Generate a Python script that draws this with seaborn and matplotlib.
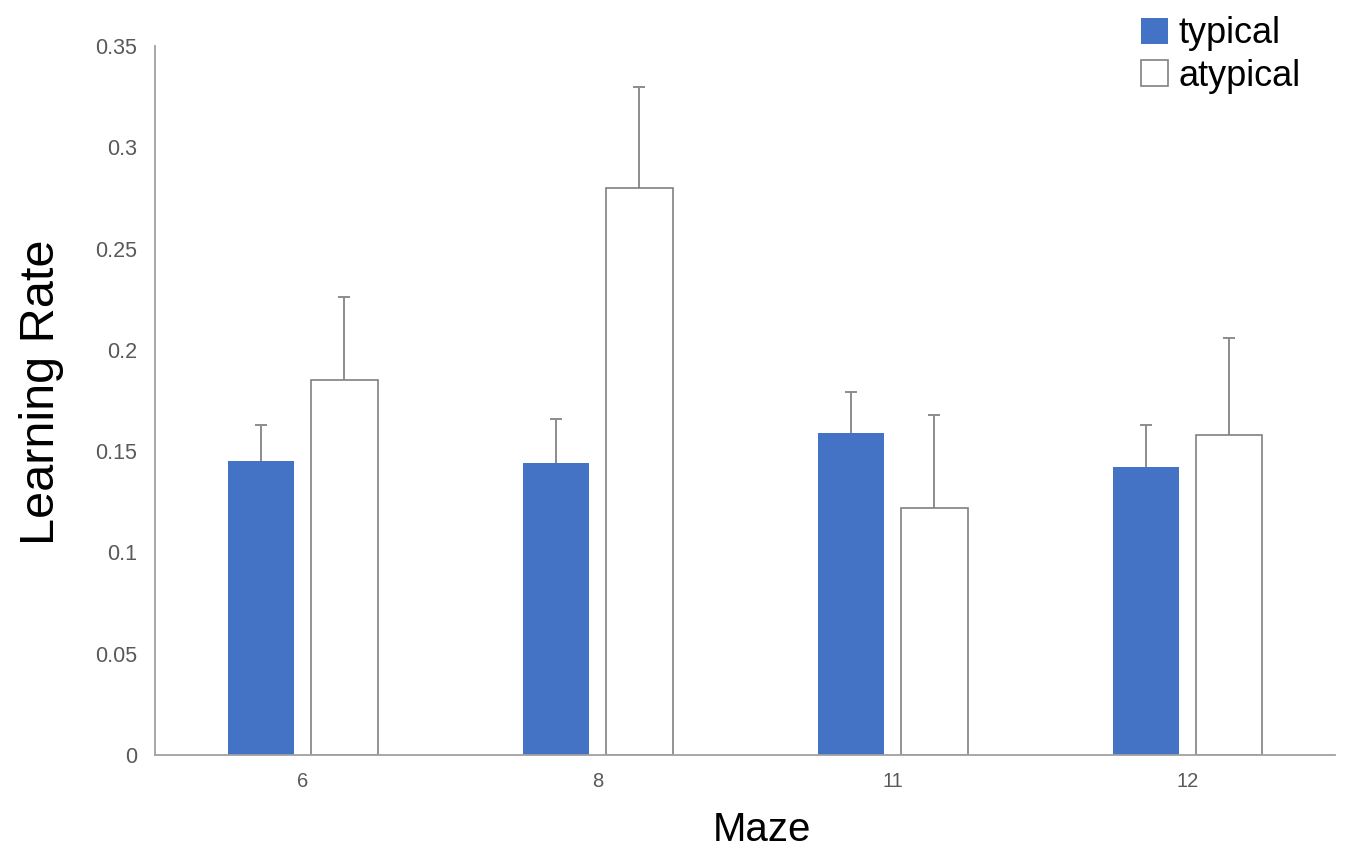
import matplotlib
matplotlib.use("Agg")
import matplotlib.pyplot as plt
import seaborn as sns
import pandas as pd
import numpy as np

mazes = ["6", "8", "11", "12"]
groups = ["typical", "atypical"]
typical_vals = [0.145, 0.144, 0.159, 0.142]
atypical_vals = [0.185, 0.280, 0.122, 0.158]
typical_err = [0.018, 0.022, 0.020, 0.021]
atypical_err = [0.041, 0.050, 0.046, 0.048]
yticks = [0, 0.05, 0.1, 0.15, 0.2, 0.25, 0.3, 0.35]
ytick_labels = ["0", "0.05", "0.1", "0.15", "0.2", "0.25", "0.3", "0.35"]

sns.set_theme(style="white")
plt.rcParams["font.family"] = ["Liberation Sans", "DejaVu Sans"]

df = pd.DataFrame({
    "Maze": mazes * 2,
    "Group": ["typical"] * 4 + ["atypical"] * 4,
    "Rate": typical_vals + atypical_vals,
})

fig = plt.figure(figsize=(13.47, 8.51), dpi=100)
ax = fig.add_axes([0.1151, 0.1128, 0.876, 0.8331])

palette = {"typical": "#4472C4", "atypical": "white"}
sns.barplot(data=df, x="Maze", y="Rate", hue="Group", order=mazes,
            hue_order=groups, palette=palette, width=0.568, gap=0.21,
            errorbar=None, ax=ax, legend=False, saturation=1)

bar_containers = list(ax.containers)
errs = [typical_err, atypical_err]
for i, cont in enumerate(bar_containers):
    for j, p in enumerate(cont.patches):
        p.set_zorder(2)
        if i == 1:
            p.set_edgecolor("#808080")
            p.set_linewidth(1.2)
        else:
            p.set_edgecolor("none")
        xc = p.get_x() + p.get_width() / 2
        h = p.get_height()
        eb = ax.errorbar([xc], [h], yerr=[[0], [errs[i][j]]], fmt="none",
                         ecolor="#8c8c8c", elinewidth=1.4, capsize=4,
                         capthick=1.4, zorder=1)
        for cl in eb[1]:
            if np.allclose(cl.get_ydata(), h):
                cl.set_visible(False)

ax.set_xlim(-0.5, 3.5)
ax.set_ylim(0, 0.35)
ax.set_yticks(yticks)
ax.set_yticklabels(ytick_labels)
ax.tick_params(axis="both", which="both", length=0, labelsize=14.5,
               labelcolor="#595959")
ax.tick_params(axis="y", labelsize=15.5, pad=13)
ax.tick_params(axis="x", pad=12)

for s in ["top", "right"]:
    ax.spines[s].set_visible(False)
for s in ["left", "bottom"]:
    ax.spines[s].set_color("#a0a0a0")
    ax.spines[s].set_linewidth(1.3)

ax.set_xlabel("Maze", fontsize=29, color="black")
ax.set_ylabel("Learning Rate", fontsize=35, color="black")
ax.xaxis.set_label_coords(0.514, -0.079)
ax.yaxis.set_label_coords(-0.077, 0.512)

handles = [bar_containers[0].patches[0], bar_containers[1].patches[0]]
leg = ax.legend(handles, groups, loc="upper right", bbox_to_anchor=(0.99, 1.019),
                bbox_transform=fig.transFigure, frameon=False, fontsize=26,
                handlelength=0.75, handleheight=0.75, handletextpad=0.3,
                labelspacing=0.2, labelcolor="black")

fig.savefig("out.png", dpi=100, facecolor="white")
